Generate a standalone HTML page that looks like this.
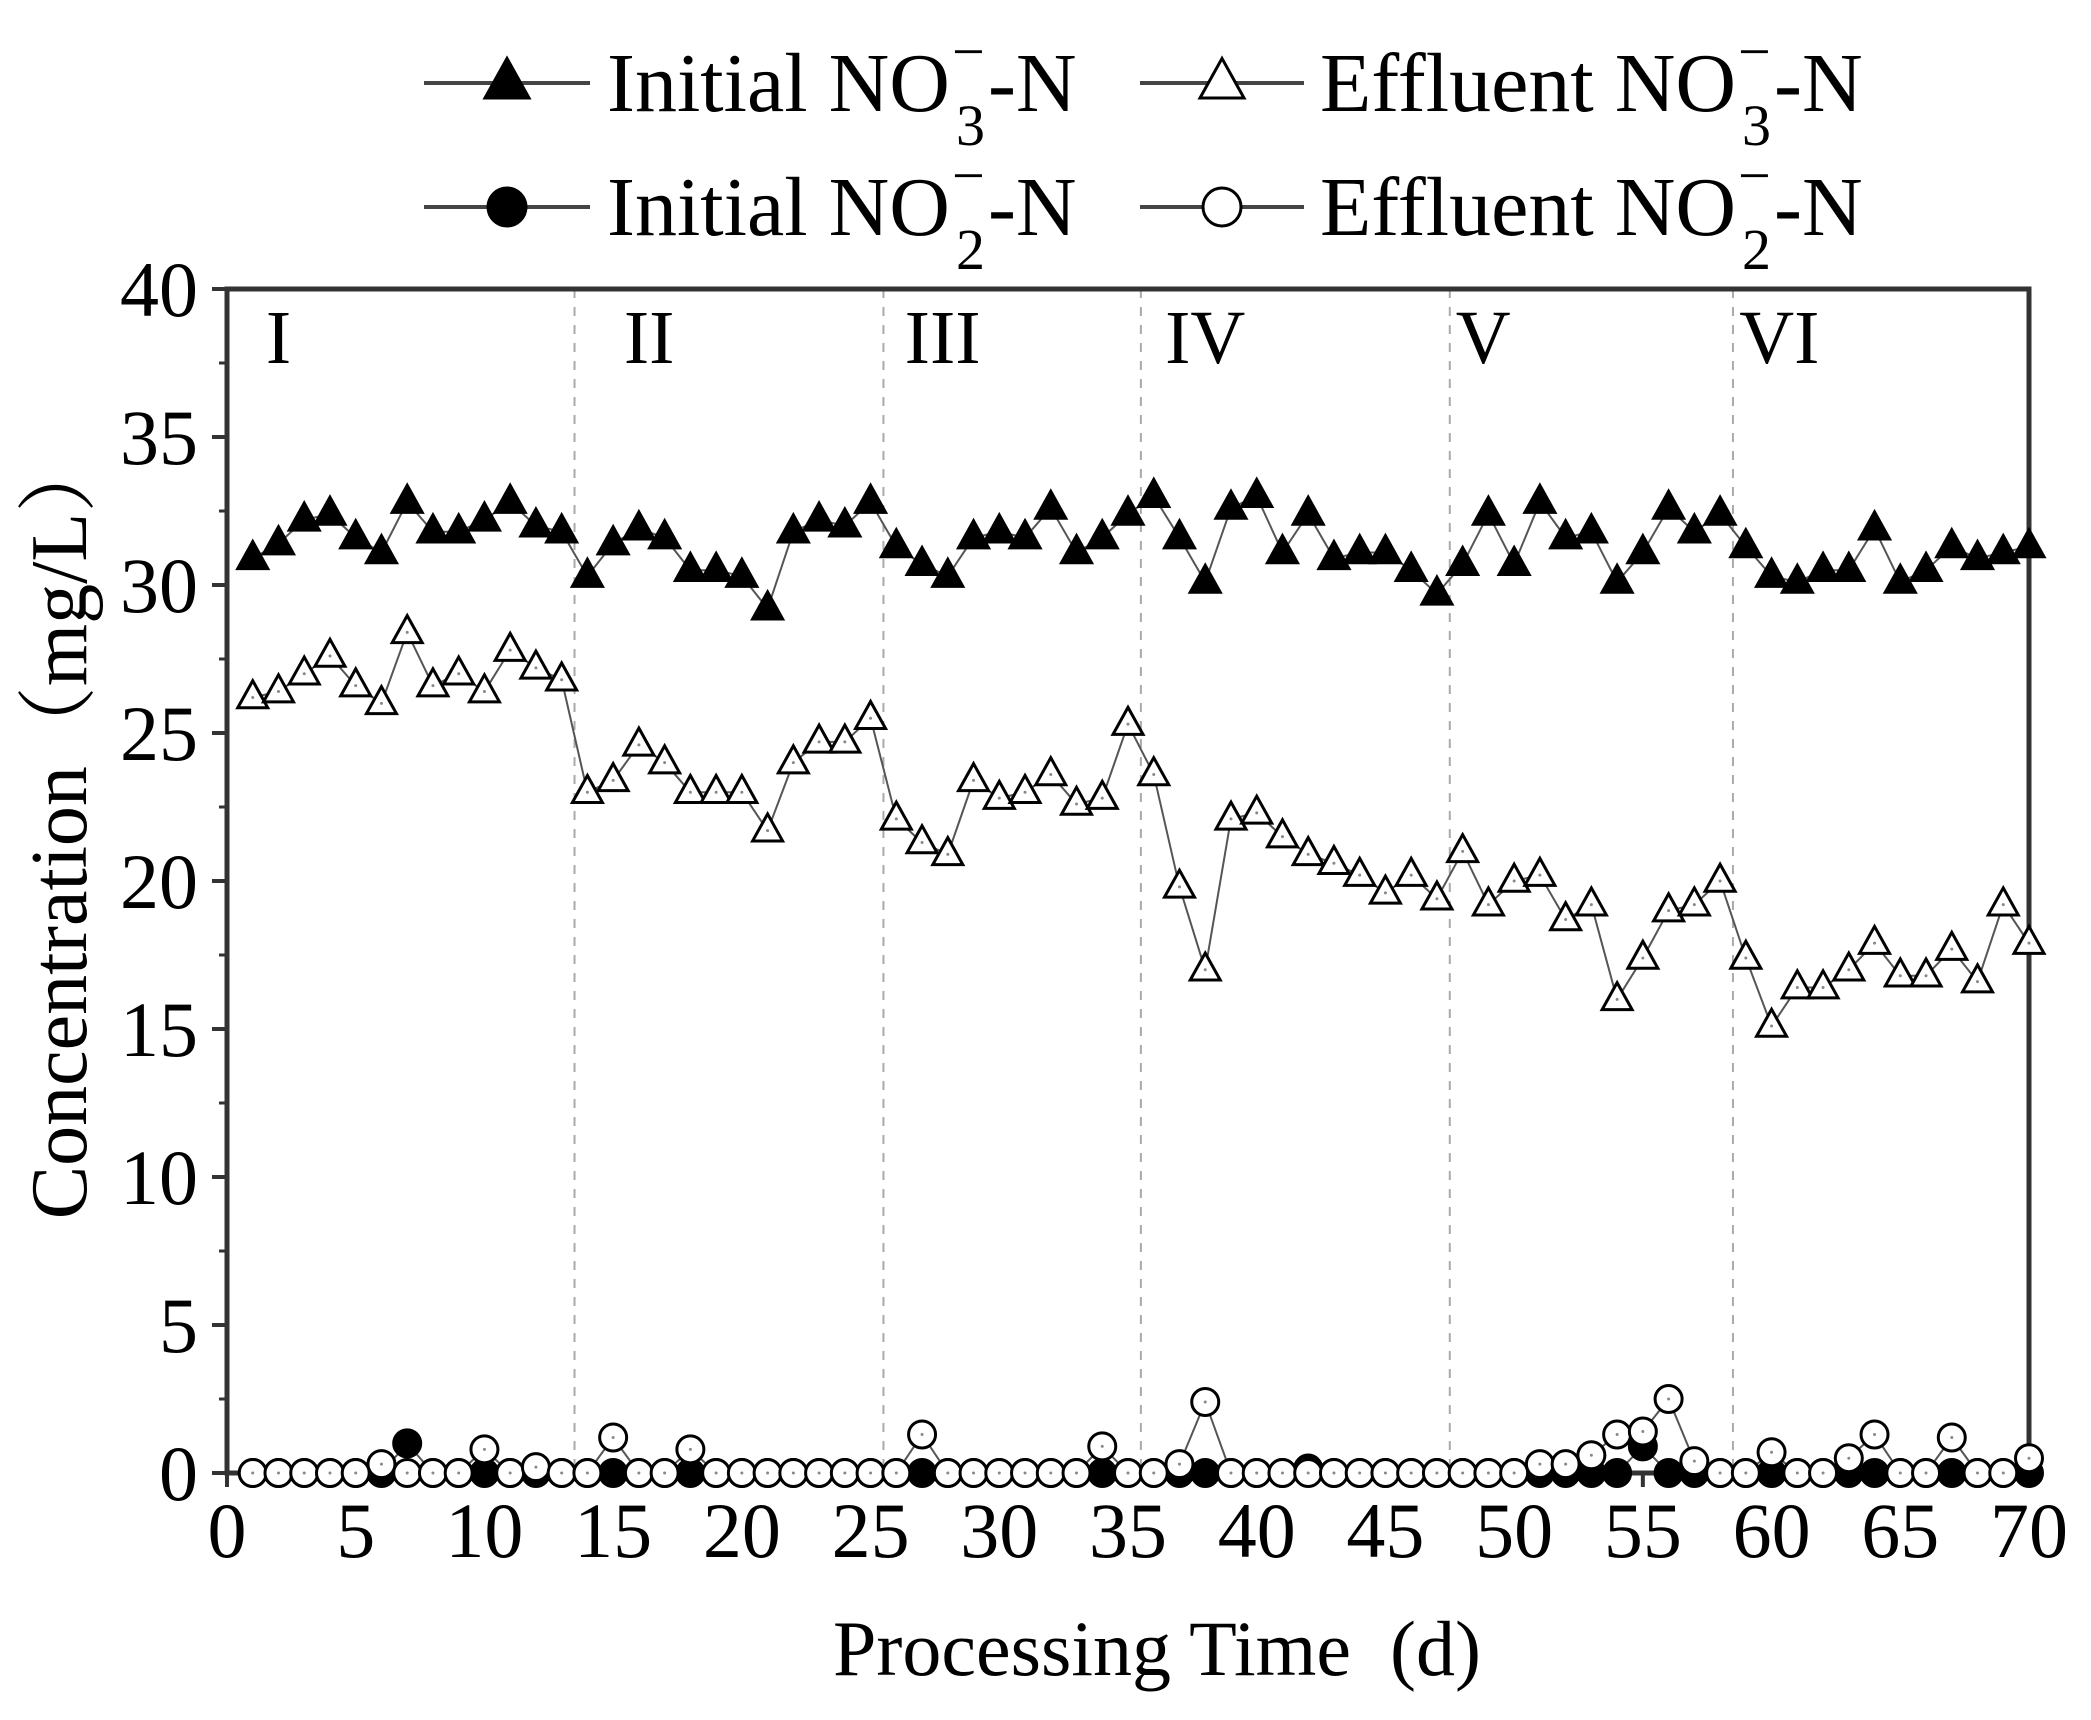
<!DOCTYPE html>
<html><head><meta charset="utf-8"><style>
html,body{margin:0;padding:0;background:#fff;}
svg{display:block;font-family:"Liberation Serif","Noto Serif CJK SC",serif;}
</style></head><body>
<svg id="chart" width="2091" height="1720" viewBox="0 0 2091 1720" xmlns="http://www.w3.org/2000/svg">
<g id="legend"></g>
<g id="plot"></g>
</svg>
<script>
const days = Array.from({length:70},(_,i)=>i+1);
const initialNO3 = [30.9,31.4,32.2,32.4,31.6,31.1,32.8,31.8,31.8,32.2,32.8,32.0,31.8,30.3,31.4,31.9,31.6,30.5,30.5,30.3,29.2,31.8,32.2,32.0,32.8,31.3,30.7,30.3,31.6,31.8,31.6,32.6,31.1,31.6,32.4,33.0,31.6,30.1,32.6,33.0,31.1,32.4,30.9,31.1,31.1,30.5,29.7,30.7,32.4,30.7,32.8,31.6,31.8,30.1,31.1,32.6,31.8,32.4,31.3,30.3,30.1,30.5,30.5,31.9,30.1,30.5,31.3,30.9,31.1,31.3];
const effluentNO3 = [26.2,26.4,27.0,27.6,26.6,26.0,28.4,26.6,27.0,26.4,27.8,27.2,26.8,23.0,23.4,24.6,24.0,23.0,23.0,23.0,21.7,24.0,24.7,24.7,25.5,22.1,21.3,20.9,23.4,22.8,23.0,23.6,22.6,22.8,25.3,23.6,19.8,17.0,22.1,22.3,21.5,20.9,20.6,20.2,19.6,20.2,19.4,21.0,19.2,20.0,20.2,18.7,19.2,16.0,17.4,19.0,19.2,20.0,17.4,15.1,16.4,16.4,17.0,17.9,16.8,16.8,17.7,16.6,19.2,17.9];
const initialNO2 = [0,0,0,0,0,0,1.0,0,0,0,0,0,0,0,0,0,0,0,0,0,0,0,0,0,0,0,0,0,0,0,0,0,0,0,0,0,0,0,0,0,0,0.15,0,0,0,0,0,0,0,0,0,0,0,0,0.9,0,0,0,0,0,0,0,0,0,0,0,0,0,0,0];
const effluentNO2 = [0,0,0,0,0,0.3,0,0,0,0.8,0,0.2,0,0,1.2,0,0,0.8,0,0,0,0,0,0,0,0,1.3,0,0,0,0,0,0,0.9,0,0,0.3,2.4,0,0,0,0,0,0,0,0,0,0,0,0,0.3,0.3,0.6,1.3,1.4,2.5,0.4,0,0,0.7,0,0,0.5,1.3,0,0,1.2,0,0,0.5];
const phaseBounds = [13.5,25.5,35.5,47.5,58.5];
const phaseLabels = ["I","II","III","IV","V","VI"];
const phaseLabelX = [2,16.4,27.8,38,48.8,60.3];
const xTicks = [0,5,10,15,20,25,30,35,40,45,50,55,60,65,70];
const yTicks = [0,5,10,15,20,25,30,35,40];

const NS="http://www.w3.org/2000/svg";
const L=227,R=2029,T=289,B=1473;
const sx=v=>L+(v-0)/70*(R-L);
const sy=v=>B-(v-0)/40*(B-T);
const plot=document.getElementById('plot');
const legend=document.getElementById('legend');
function mk(tag,attrs,parent){const e=document.createElementNS(NS,tag);for(const k in attrs)e.setAttribute(k,attrs[k]);(parent||plot).appendChild(e);return e;}
function tri(cx,cy,s,filled,parent){
  const h=s*0.9;
  const p=`${cx},${cy-h*0.62} ${cx-s/2},${cy+h*0.38} ${cx+s/2},${cy+h*0.38}`;
  return mk('polygon',{points:p,fill:filled?'#000':'#fff',stroke:'#000','stroke-width':3},parent);
}
function circ(cx,cy,r,filled,parent){
  return mk('circle',{cx:cx,cy:cy,r:r,fill:filled?'#000':'#fff',stroke:'#000','stroke-width':3},parent);
}

phaseBounds.forEach(b=>{
  const e=mk('line',{x1:sx(b),x2:sx(b),y1:T,y2:B,stroke:'#aaa','stroke-width':2,'stroke-dasharray':'9,9'});
  
  
});
phaseLabels.forEach((t,i)=>{
  const e=mk('text',{x:sx(phaseLabelX[i]),y:sy(37.5),'font-size':76,'text-anchor':'middle'});
  e.textContent=t;
  
  
});

const frame=mk('rect',{x:L,y:T,width:R-L,height:B-T,fill:'none',stroke:'#333','stroke-width':5});



xTicks.forEach((v,i)=>{
  mk('line',{x1:sx(v),x2:sx(v),y1:B,y2:B+14,stroke:'#333','stroke-width':4});
  if(i<xTicks.length-1) mk('line',{x1:sx(v+2.5),x2:sx(v+2.5),y1:B,y2:B+8,stroke:'#333','stroke-width':3});
  const t=mk('text',{x:sx(v),y:B+84,'font-size':78,'text-anchor':'middle'});
  t.textContent=v;
  
  
});
yTicks.forEach((v,i)=>{
  mk('line',{x1:L,x2:L-15,y1:sy(v),y2:sy(v),stroke:'#333','stroke-width':4});
  if(i<yTicks.length-1) mk('line',{x1:L,x2:L-8,y1:sy(v+2.5),y2:sy(v+2.5),stroke:'#333','stroke-width':3});
  const t=mk('text',{x:198,y:sy(v)+27,'font-size':78,'text-anchor':'end'});
  t.textContent=v;
  
  
});

const xt=mk('text',{x:1157,y:1675,'font-size':78,'text-anchor':'middle'});
xt.textContent='Processing Time\u2002(d)';


const yt=mk('text',{x:0,y:0,'font-size':80,'text-anchor':'middle',transform:'translate(86,826) rotate(-90)'});
yt.textContent='Concentration（mg/L）';



function series(vals,name,kind,filled,size){
  const g=mk('g',{});
  
  
  const pts=vals.map((v,i)=>sx(days[i])+','+sy(v)).join(' ');
  mk('polyline',{points:pts,fill:'none',stroke:'#555','stroke-width':2},g);
  vals.forEach((v,i)=>{
    const cx=sx(days[i]),cy=sy(v);
    const m = kind==='tri'?tri(cx,cy,size,filled,g):circ(cx,cy,size/2,filled,g);
    
    
    if(!filled) mk('circle',{cx:cx,cy:cy,r:1.5,fill:'#888'},g);
  });
}
series(initialNO3,'initial-no3-series','tri',true,30);
series(effluentNO3,'effluent-no3-series','tri',false,30);
series(initialNO2,'initial-no2-series','circ',true,27);
series(effluentNO2,'effluent-no2-series','circ',false,27);

function legendEntry(x1,x2,y,kind,filled,label,sub,tx){
  const g=mk('g',{},legend);
  
  
  mk('line',{x1:x1,x2:x2,y1:y,y2:y,stroke:'#444','stroke-width':4},g);
  const cx=(x1+x2)/2;
  if(kind==='tri') tri(cx,y,44,filled,g); else circ(cx,y,19,filled,g);
  const t=mk('text',{x:tx,y:y+28,'font-size':84},g);
  t.textContent=label+' NO';
  const w=t.getComputedTextLength();
  const s1=mk('text',{x:tx+w+2,y:y-12,'font-size':58},g); s1.textContent='−';
  const s2=mk('text',{x:tx+w+6,y:y+62,'font-size':58},g); s2.textContent=sub;
  const t2=mk('text',{x:tx+w+38,y:y+28,'font-size':84},g); t2.textContent='-N';
}
legendEntry(424,590,83,'tri',true,'Initial','3',607);
legendEntry(1140,1304,83,'tri',false,'Effluent','3',1320);
legendEntry(424,590,207,'circ',true,'Initial','2',607);
legendEntry(1140,1304,207,'circ',false,'Effluent','2',1320);
</script>
</body></html>
